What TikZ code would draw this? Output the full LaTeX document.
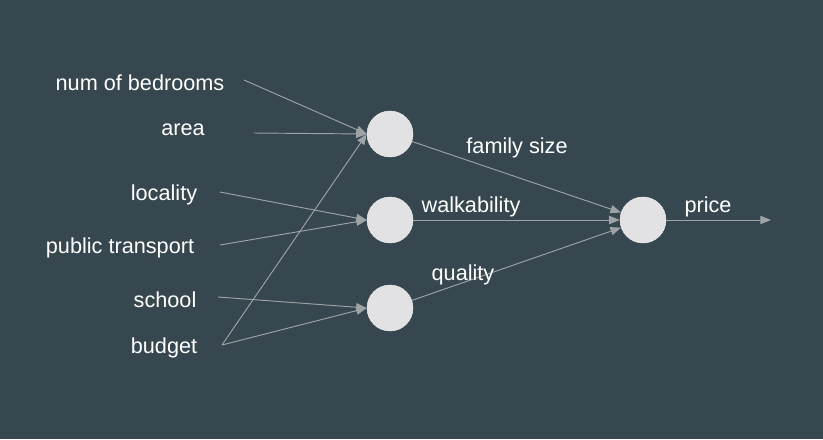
\documentclass[tikz,border=0pt]{standalone}
\usepackage{fontspec}
\setmainfont{Liberation Sans}
\usetikzlibrary{arrows.meta}

\definecolor{slate}{HTML}{37474F}
\definecolor{wire}{HTML}{9EA3A6}
\definecolor{unit}{HTML}{E2E2E4}

\begin{document}
\begin{tikzpicture}[x=0.03cm,y=-0.03cm]
    \tikzset{
        neuron/.style={circle,fill=unit,draw=unit!70!white,minimum size=46*0.03cm,inner sep=0pt},
        feat/.style={text=white,font=\fontsize{18.5}{22}\selectfont,inner sep=0pt,yshift=-2*0.03cm},
        link/.style={wire,line width=0.8pt,-{Triangle[length=9pt,width=7pt]}},
    }
    \fill[slate] (0,0) rectangle (823,439);
    \useasboundingbox (0,0) rectangle (823,439);
    % inputs
    \node[feat] (bed) at (140,81) {num of bedrooms};
    \node[feat] (area) at (183,128) {area};
    \node[feat] (loc) at (164,193) {locality};
    \node[feat] (pub) at (120,246) {public transport};
    \node[feat] (sch) at (165,298) {school};
    \node[feat] (bud) at (164,346) {budget};
    \coordinate (bedS) at (244,80);
    \coordinate (areaS) at (254,133);
    \coordinate (locS) at (220,192);
    \coordinate (pubS) at (220,245);
    \coordinate (schS) at (218,297);
    \coordinate (budS) at (222,345);
    % hidden layer
    \node[neuron] (h1) at (390,134) {};
    \node[neuron] (h2) at (390,220) {};
    \node[neuron] (h3) at (390,308) {};
    \node[neuron] (out) at (643,220) {};
    \coordinate (end) at (771,220);
    % edges
    \draw[link] (bedS) -- (h1.west);
    \draw[link] (areaS) -- (h1.west);
    \draw[link] (budS) -- (h1.west);
    \draw[link] (locS) -- (h2.west);
    \draw[link] (pubS) -- (h2.west);
    \draw[link] (schS) -- (h3.west);
    \draw[link] (budS) -- (h3.west);
    \draw[link] (h1) -- (out);
    \draw[link] (h2) -- (out);
    \draw[link] (h3) -- (out);
    \draw[link] (out) -- (end);
    % middle labels
    \node[feat] (fam) at (517,146) {family size};
    \node[feat] (walk) at (471,205) {walkability};
    \node[feat] (qual) at (463,273) {quality};
    \node[feat] (price) at (708,205) {price};
\end{tikzpicture}
\end{document}
